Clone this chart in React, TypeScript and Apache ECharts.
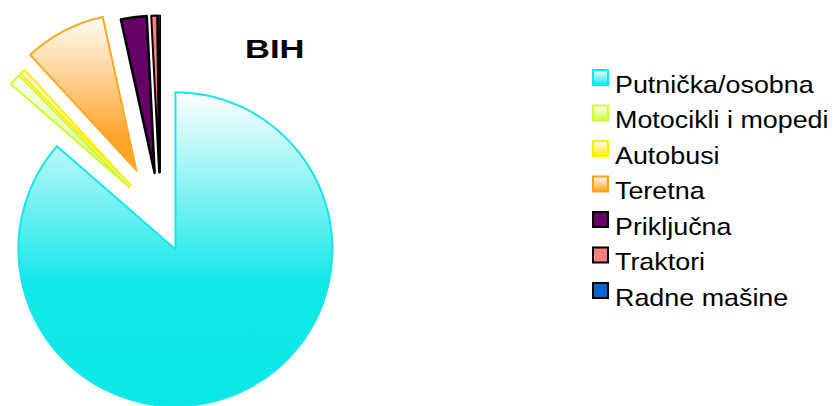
import React, { useEffect, useRef } from 'react';
import * as echarts from 'echarts';

// ---- data ----
const categories = ['Putnička/osobna', 'Motocikli i mopedi', 'Autobusi', 'Teretna', 'Priključna', 'Traktori', 'Radne mašine'];
const shares = [86.4, 1.2, 0.55, 8.4, 2.65, 0.6, 0.2];
const chartTitle = 'BIH';

// ---- styling / layout (not data) ----
const slicePull = [36, 43, 43, 52, 44, 44, 44];
const sliceStops: [number, string][][] = [
  [[0, '#ffffff'], [0.6, '#14e8e8'], [1, '#0be8e8']],
  [[0, '#fbfff0'], [1, '#d4f68a']],
  [[0, '#fffbe6'], [1, '#fff27a']],
  [[0, '#fffcf7'], [0.78, '#ffa52c'], [1, '#ffa326']],
  [[0, '#660066'], [1, '#660066']],
  [[0, '#ff7f7f'], [1, '#ff7f7f']],
  [[0, '#0066cc'], [1, '#0066cc']],
];
const sliceBorder = ['#16e6ec', '#ccff22', '#ffee00', '#ffa726', '#000000', '#000000', '#000000'];
const sliceBorderWidth = [2, 2, 2, 2, 2.5, 2, 1.5];
const legendStops: [number, string][][] = [
  [[0, '#ffffff'], [1, '#10e6e6']],
  [[0, '#ffffff'], [1, '#ccff33']],
  [[0, '#ffffff'], [1, '#ffee00']],
  [[0, '#ffffff'], [1, '#ff9f1c']],
  [[0, '#660066'], [1, '#660066']],
  [[0, '#ff7f7f'], [1, '#ff7f7f']],
  [[0, '#0066cc'], [1, '#0066cc']],
];

const grad = (stops: [number, string][]) => ({
  type: 'linear', x: 0, y: 0, x2: 0, y2: 1,
  colorStops: stops.map(([offset, color]) => ({ offset, color })),
});

export default function App() {
  const ref = useRef<HTMLDivElement>(null);
  useEffect(() => {
    if (!ref.current) return;
    const chart = echarts.init(ref.current, null, { renderer: 'svg' });
    const offsets = Array.from(new Set(slicePull)).sort((a, b) => a - b);
    const series = offsets.map((off) => ({
      type: 'pie',
      center: [160.5, 216.5],
      radius: [0, 157],
      startAngle: 90,
      clockwise: true,
      selectedMode: 'multiple',
      selectedOffset: off,
      silent: true,
      label: { show: false },
      labelLine: { show: false },
      emphasis: { disabled: true },
      data: categories.map((name, i) => {
        const own = slicePull[i] === off;
        const itemStyle = own
          ? { color: grad(sliceStops[i]), borderColor: sliceBorder[i], borderWidth: sliceBorderWidth[i] }
          : { color: 'rgba(0,0,0,0)', borderWidth: 0 };
        return { name, value: shares[i], selected: own, itemStyle, select: { itemStyle } };
      }),
    }));

    const graphics: any[] = [
      {
        type: 'text', x: 245, y: 49.5, scaleX: 1.38,
        style: { text: chartTitle, font: 'bold 25px "Liberation Sans", Arial, sans-serif', fill: '#000', align: 'left', verticalAlign: 'middle' },
      },
    ];
    categories.forEach((name, i) => {
      graphics.push({
        type: 'rect',
        shape: { x: 593, y: 70 + 35.5 * i, width: 15, height: 15 },
        style: { fill: new echarts.graphic.LinearGradient(0, 0, 0, 1, legendStops[i].map(([offset, color]) => ({ offset, color }))), stroke: i >= 4 ? '#000' : legendStops[i][1][1], lineWidth: 2 },
      });
      graphics.push({
        type: 'text', x: 615, y: 84.5 + 35.5 * i, scaleX: 1.12,
        style: { text: name, font: '24px "Liberation Sans", Arial, sans-serif', fill: '#000', align: 'left', verticalAlign: 'middle' },
      });
    });

    chart.setOption({
      animation: false,
      backgroundColor: '#ffffff',
      series,
      graphic: graphics,
    } as any);
    return () => chart.dispose();
  }, []);
  return <div ref={ref} style={{ position: 'fixed', left: 0, top: 0, width: 835, height: 406 }} />;
}
